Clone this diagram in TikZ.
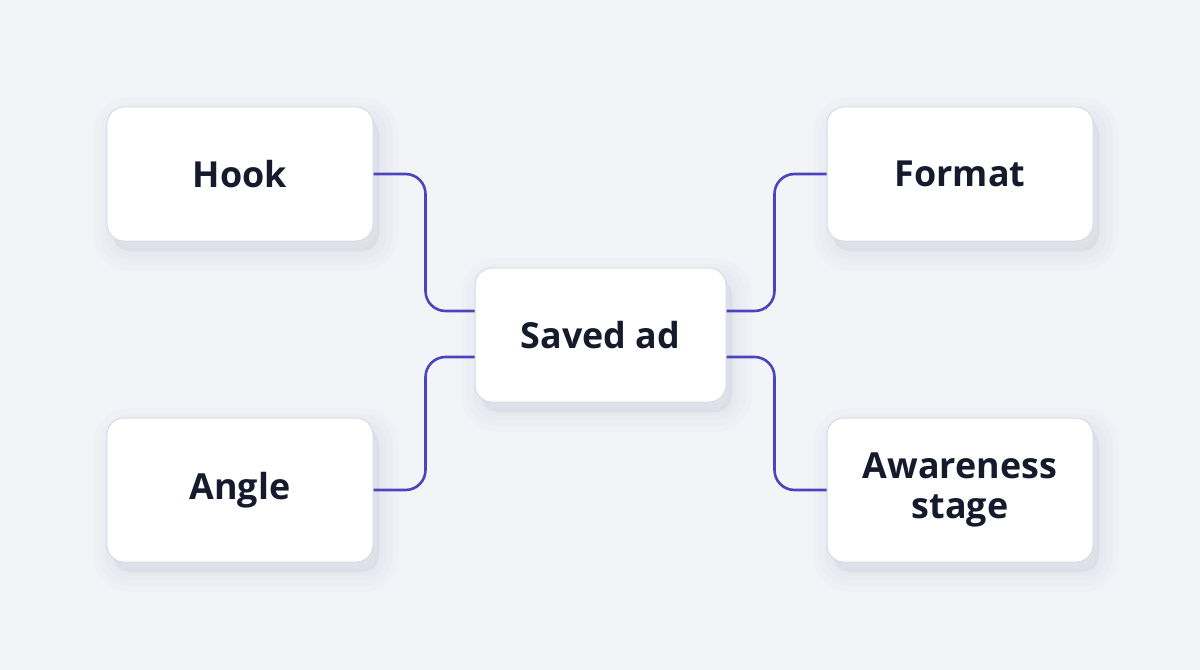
\documentclass[tikz,border=0pt]{standalone}
\usepackage{fontspec}
\setsansfont{Open Sans}

\definecolor{bgcol}{HTML}{F3F4F8}
\definecolor{boxline}{HTML}{D9DBE2}
\definecolor{linkcol}{HTML}{4A45BE}
\definecolor{textcol}{HTML}{151A2C}
\definecolor{shadecol}{HTML}{8A8FA8}

\tikzset{
  softshade/.style={preaction={draw=shadecol, fill=shadecol, line width=#1,
    opacity=0.025, transform canvas={shift={(6bp,-10bp)}}}},
  topic/.style={draw=boxline, line width=1bp, fill=white, rounded corners=17bp,
    minimum width=266bp, minimum height=134bp, align=center,
    text=textcol, font=\sffamily\bfseries\fontsize{36}{40}\selectfont,
    softshade=40bp, softshade=28bp, softshade=16bp, softshade=6bp},
  link/.style={draw=linkcol, line width=2.6bp, rounded corners=20bp}
}

\begin{document}
\begin{tikzpicture}[x=1bp,y=-1bp]

      \fill[bgcol] (0,0) rectangle (1200,670);

      \begin{scope}[every node/.style={topic}]
        \node (hook)      at (240,174)   {Hook};
        \node (format)    at (960,174)   {Format};
        \node (saved)     at (600.5,335) [minimum width=251bp] {Saved ad};
        \node (angle)     at (240,490)   [minimum height=144bp] {Angle};
        \node (awareness) at (960,490)   [minimum height=144bp] {Awareness\\stage};
      \end{scope}

      \begin{scope}[every path/.style={link}]
        \path (hook.east)  -- ++(52,0) |- ([yshift=24bp]saved.west);
        \path (angle.east) -- ++(52,0) |- ([yshift=-22bp]saved.west);
        \path (format.west)    -- ++(-52,0) |- ([yshift=24bp]saved.east);
        \path (awareness.west) -- ++(-52,0) |- ([yshift=-22bp]saved.east);
      \end{scope}

    \end{tikzpicture}
\end{document}
